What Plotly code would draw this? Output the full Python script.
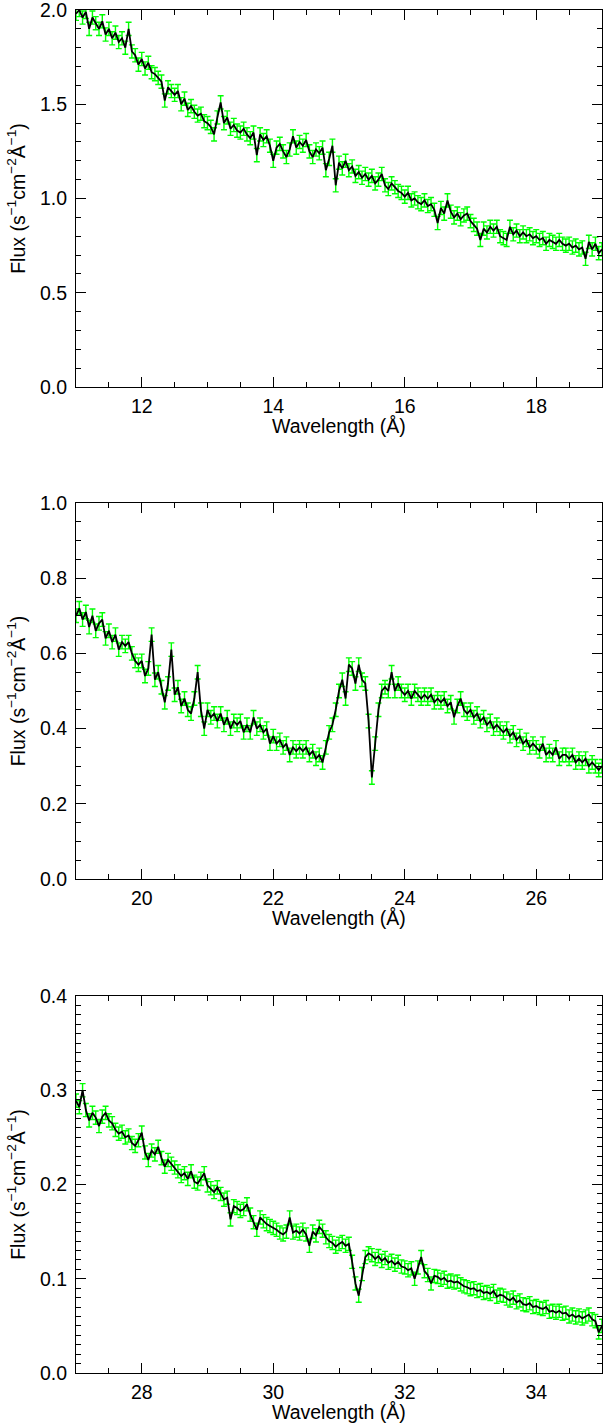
import numpy as np
import plotly.graph_objects as go

# ---------------- data ----------------
wave_step = 0.05
panel_ranges = [(11, 19), (19, 27), (27, 35)]

flux1 = [
    1.98, 2.00, 1.96, 1.99, 1.90, 1.96, 1.93, 1.90, 1.94, 1.87,
    1.90, 1.85, 1.88, 1.83, 1.85, 1.80, 1.90, 1.78, 1.76, 1.71,
    1.74, 1.69, 1.72, 1.67, 1.66, 1.64, 1.62, 1.52, 1.59, 1.57,
    1.55, 1.57, 1.50, 1.53, 1.47, 1.49, 1.46, 1.44, 1.45, 1.41,
    1.40, 1.38, 1.34, 1.43, 1.51, 1.40, 1.43, 1.37, 1.39, 1.36,
    1.35, 1.37, 1.34, 1.32, 1.35, 1.23, 1.34, 1.31, 1.33, 1.28,
    1.20, 1.27, 1.29, 1.25, 1.22, 1.26, 1.33, 1.27, 1.30, 1.28,
    1.31, 1.25, 1.22, 1.26, 1.24, 1.27, 1.15, 1.21, 1.28, 1.07,
    1.19, 1.16, 1.20, 1.15, 1.17, 1.12, 1.14, 1.11, 1.13, 1.10,
    1.12, 1.08, 1.10, 1.13, 1.07, 1.05, 1.08, 1.06, 1.04, 1.03,
    1.01, 1.03, 0.99, 1.00, 0.98, 0.97, 0.99, 0.96, 0.97, 0.94,
    0.87, 0.95, 0.92, 0.99, 0.93, 0.90, 0.92, 0.89, 0.91, 0.92,
    0.88, 0.86, 0.84, 0.78, 0.84, 0.82, 0.85, 0.83, 0.85, 0.80,
    0.79, 0.78, 0.85, 0.81, 0.83, 0.80, 0.82, 0.80, 0.81, 0.79,
    0.80, 0.78, 0.79, 0.76, 0.78, 0.77, 0.76, 0.78, 0.76, 0.75,
    0.76, 0.74, 0.75, 0.73, 0.74, 0.68, 0.77, 0.73, 0.76, 0.71,
    0.73,
]

flux2 = [
    0.70, 0.72, 0.69, 0.71, 0.67, 0.70, 0.66, 0.68, 0.69, 0.64,
    0.66, 0.63, 0.65, 0.61, 0.63, 0.62, 0.63, 0.60, 0.58, 0.57,
    0.58, 0.54, 0.56, 0.65, 0.53, 0.55, 0.51, 0.47, 0.52, 0.61,
    0.49, 0.51, 0.46, 0.48, 0.45, 0.44, 0.48, 0.55, 0.45, 0.40,
    0.45, 0.43, 0.44, 0.42, 0.44, 0.41, 0.43, 0.40, 0.42, 0.41,
    0.42, 0.39, 0.41, 0.39, 0.43, 0.40, 0.41, 0.39, 0.40, 0.36,
    0.38, 0.36, 0.37, 0.35, 0.36, 0.33, 0.35, 0.34, 0.35, 0.34,
    0.35, 0.33, 0.34, 0.32, 0.33, 0.31, 0.35, 0.39, 0.41, 0.45,
    0.50, 0.53, 0.48, 0.57, 0.56, 0.52, 0.57, 0.53, 0.52, 0.42,
    0.27, 0.36, 0.45, 0.50, 0.51, 0.50, 0.55, 0.50, 0.52, 0.50,
    0.49, 0.50, 0.48, 0.50, 0.49, 0.48, 0.49, 0.48, 0.49, 0.47,
    0.48, 0.47, 0.48, 0.46, 0.47, 0.43, 0.46, 0.48, 0.45, 0.44,
    0.45, 0.43, 0.44, 0.42, 0.43, 0.41, 0.42, 0.40, 0.41, 0.40,
    0.39, 0.40, 0.38, 0.39, 0.37, 0.38, 0.36, 0.37, 0.35, 0.36,
    0.35, 0.34, 0.36, 0.33, 0.34, 0.33, 0.35, 0.32, 0.33, 0.33,
    0.32, 0.33, 0.31, 0.32, 0.31, 0.32, 0.30, 0.31, 0.30, 0.29,
    0.30,
]

flux3 = [
    0.289, 0.282, 0.300, 0.279, 0.268, 0.276, 0.271, 0.262, 0.272, 0.276,
    0.268, 0.265, 0.258, 0.254, 0.256, 0.250, 0.252, 0.244, 0.241, 0.247,
    0.255, 0.234, 0.226, 0.236, 0.232, 0.240, 0.228, 0.219, 0.226, 0.222,
    0.218, 0.214, 0.209, 0.212, 0.206, 0.214, 0.203, 0.201, 0.206, 0.212,
    0.199, 0.196, 0.192, 0.197, 0.190, 0.184, 0.186, 0.163, 0.177, 0.175,
    0.172, 0.174, 0.179, 0.168, 0.160, 0.152, 0.165, 0.161, 0.158, 0.156,
    0.154, 0.152, 0.149, 0.147, 0.150, 0.165, 0.149, 0.151, 0.148, 0.152,
    0.147, 0.135, 0.150, 0.146, 0.155, 0.151, 0.144, 0.140, 0.138, 0.134,
    0.137, 0.139, 0.135, 0.137, 0.118, 0.095, 0.082, 0.105, 0.123, 0.127,
    0.125, 0.121, 0.124, 0.119, 0.122, 0.117, 0.119, 0.115, 0.118, 0.113,
    0.112, 0.109, 0.111, 0.100, 0.112, 0.123, 0.108, 0.104, 0.095, 0.103,
    0.102, 0.099, 0.101, 0.097, 0.098, 0.096, 0.097, 0.094, 0.092, 0.091,
    0.089, 0.090, 0.087, 0.088, 0.085, 0.086, 0.084, 0.087, 0.081, 0.083,
    0.082, 0.079, 0.077, 0.080, 0.075, 0.077, 0.073, 0.072, 0.074, 0.070,
    0.071, 0.069, 0.068, 0.070, 0.065, 0.066, 0.064, 0.066, 0.063, 0.064,
    0.060, 0.062, 0.059, 0.061, 0.058, 0.060, 0.062, 0.057, 0.055, 0.043,
    0.050,
]

flux_errors = [0.035, 0.018, 0.007]
y_ranges = [(0, 2.0), (0, 1.0), (0, 0.4)]
y_dticks = [0.5, 0.2, 0.1]
y_minor = [0.1, 0.05, 0.01]
x_tickvals = [[12, 14, 16, 18], [20, 22, 24, 26], [28, 30, 32, 34]]
x_title = "Wavelength (Å)"
y_title = "Flux (s<sup>−1</sup>cm<sup>−2</sup>Å<sup>−1</sup>)"

fluxes = [flux1, flux2, flux3]

# ---------------- figure ----------------
W, H = 603, 1426
m_l, m_r, m_t, m_b = 76, 1, 10, 53
plot_h = H - m_t - m_b
panel_px = [(10, 387), (503, 879), (996, 1373)]  # top, bottom in page px

def to_paper(ypx):
    return (H - m_b - ypx) / plot_h

fig = go.Figure()
font = dict(family="Liberation Sans, Arial, sans-serif", size=19.5, color="black")

for i, (flux, (x0, x1)) in enumerate(zip(fluxes, panel_ranges)):
    wave = np.round(x0 + wave_step * np.arange(len(flux)), 3)
    xa = "x" if i == 0 else f"x{i+1}"
    ya = "y" if i == 0 else f"y{i+1}"
    fig.add_trace(go.Scatter(
        x=wave, y=flux, mode="lines",
        line=dict(color="black", width=1.8),
        error_y=dict(type="constant", value=flux_errors[i], color="#00ff00",
                     thickness=1.4, width=3),
        xaxis=xa, yaxis=ya, showlegend=False,
    ))
    axis_common = dict(
        showline=True, linecolor="black", linewidth=1, mirror="ticks",
        ticks="inside", ticklen=10, tickwidth=1, tickcolor="black",
        showgrid=False, zeroline=False, tickfont=font,
        ticklabeloverflow="allow",
    )
    xkey = "xaxis" if i == 0 else f"xaxis{i+1}"
    ykey = "yaxis" if i == 0 else f"yaxis{i+1}"
    top, bot = panel_px[i]
    fig.update_layout(**{
        xkey: dict(
            range=[x0, x1], tickvals=x_tickvals[i], domain=[0, 1],
            anchor=ya,
            minor=dict(dtick=0.5, tick0=x0, ticks="inside", ticklen=5,
                       tickcolor="black", showgrid=False),
            ticklabelstandoff=2,
            **axis_common,
        ),
        ykey: dict(
            range=list(y_ranges[i]), dtick=y_dticks[i], tick0=0,
            tickformat=".1f", anchor=xa,
            domain=[to_paper(bot), to_paper(top)],
            minor=dict(dtick=y_minor[i], tick0=0, ticks="inside", ticklen=5,
                       tickcolor="black", showgrid=False),
            title=dict(text=y_title, font=font, standoff=9),
            ticklabelstandoff=4,
            **axis_common,
        ),
    })
    fig.add_annotation(
        text=x_title, xref="paper", yref="paper",
        x=0.5, y=to_paper(bot + 39), xanchor="center", yanchor="middle",
        showarrow=False, font=font,
    )

fig.update_layout(
    width=W, height=H,
    margin=dict(l=m_l, r=m_r, t=m_t, b=m_b, autoexpand=False),
    paper_bgcolor="white", plot_bgcolor="white",
    font=font,
)

fig.write_html("out.html")
